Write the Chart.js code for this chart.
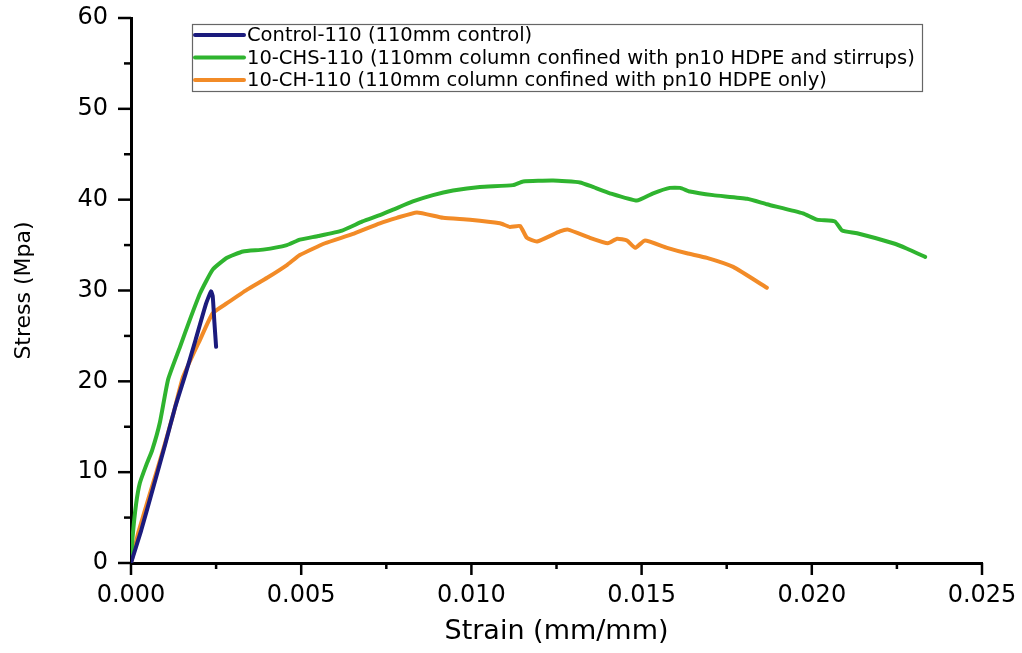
<!DOCTYPE html>
<html>
<head>
<meta charset="utf-8">
<script src="https://cdn.jsdelivr.net/npm/chart.js@4.4.1/dist/chart.umd.min.js"></script>
<style>
  html,body{margin:0;padding:0;background:#fff;}
  #wrap{width:1022px;height:653px;}
</style>
</head>
<body>
<div id="wrap"><canvas id="c"></canvas></div>
<script>
// strain (mm/mm) and stress (MPa)
const ctrlStrain=[0,0.0003,0.0006,0.001,0.0013,0.0016,0.0019,0.0022,0.00235,0.0024,0.00245,0.0025];
const ctrlStress=[0,3.6,7.6,13.0,17.2,20.8,24.6,28.5,29.9,29.4,26.5,23.8];

const chsStrain=[0,0.00005,0.00015,0.00026,0.00045,0.00062,0.00085,0.00109,0.00144,0.00173,0.00203,0.0024,0.00282,0.00329,0.00388,0.00458,0.00496,0.0055,0.0062,0.0068,0.00731,0.0077,0.00828,0.00887,0.00946,0.01025,0.01122,0.01152,0.0124,0.01319,0.01357,0.01407,0.01486,0.01534,0.01583,0.01613,0.01642,0.0171,0.0181,0.01868,0.01974,0.02015,0.02068,0.02089,0.02133,0.02239,0.0228,0.02333];
const chsStress=[0,3,6.5,8.8,10.8,12.4,15.5,20.2,23.8,26.8,29.7,32.3,33.6,34.3,34.5,35.0,35.6,36.0,36.6,37.6,38.3,38.9,39.8,40.5,41.0,41.4,41.6,42.0,42.1,41.9,41.4,40.7,39.9,40.7,41.3,41.3,40.9,40.5,40.1,39.5,38.5,37.8,37.6,36.6,36.3,35.2,34.6,33.7];

const chStrain=[0,0.0001,0.00021,0.00056,0.00094,0.00125,0.00153,0.00203,0.0024,0.00282,0.00341,0.004,0.00458,0.00496,0.0057,0.0065,0.00731,0.00781,0.0084,0.00917,0.00996,0.01084,0.01113,0.01143,0.01163,0.01193,0.0126,0.01284,0.01348,0.01401,0.01428,0.01457,0.01481,0.0151,0.01575,0.01633,0.01692,0.01769,0.01868];
const chStress=[0,1.5,3.3,7.7,12.4,16.5,20.5,24.6,27.5,28.6,30.1,31.4,32.8,33.9,35.2,36.2,37.4,38.0,38.6,38.0,37.8,37.4,37.0,37.1,35.8,35.4,36.5,36.7,35.8,35.2,35.7,35.5,34.7,35.5,34.7,34.1,33.6,32.6,30.3];

const seriesNames=['Control-110 (110mm control)','10-CHS-110 (110mm column confined with pn10 HDPE and stirrups)','10-CH-110 (110mm column confined with pn10 HDPE only)'];
const seriesColors=['#1b1b7d','#2fb42f','#f28b27'];

const pts=(xs,ys)=>xs.map((x,i)=>({x,y:ys[i]}));

// origin style ticks: long major, short minor, pointing out
const tickMarks={
  id:'tickMarks',
  afterDraw(chart){
    const ctx=chart.ctx, xs=chart.scales.x, ys=chart.scales.y, a=chart.chartArea;
    ctx.save(); ctx.strokeStyle='#000'; ctx.lineWidth=2.5;
    const xt=xs.ticks.map(t=>t.value);
    for(let i=0;i<xt.length;i++){
      let p=xs.getPixelForValue(xt[i]);
      ctx.beginPath(); ctx.moveTo(p,a.bottom); ctx.lineTo(p,a.bottom+12); ctx.stroke();
      if(i<xt.length-1){
        p=xs.getPixelForValue((xt[i]+xt[i+1])/2);
        ctx.beginPath(); ctx.moveTo(p,a.bottom); ctx.lineTo(p,a.bottom+6); ctx.stroke();
      }
    }
    const yt=ys.ticks.map(t=>t.value);
    for(let i=0;i<yt.length;i++){
      let p=ys.getPixelForValue(yt[i]);
      ctx.beginPath(); ctx.moveTo(a.left,p); ctx.lineTo(a.left-13,p); ctx.stroke();
      if(i<yt.length-1){
        p=ys.getPixelForValue((yt[i]+yt[i+1])/2);
        ctx.beginPath(); ctx.moveTo(a.left,p); ctx.lineTo(a.left-7,p); ctx.stroke();
      }
    }
    ctx.restore();
  }
};

// boxed legend sitting inside the plot
const boxLegend={
  id:'boxLegend',
  afterDraw(chart){
    const ctx=chart.ctx, L=192, T=24, W=730, H=67;
    ctx.save();
    ctx.strokeStyle='#666'; ctx.lineWidth=1.2;
    ctx.strokeRect(L+0.5,T+0.5,W,H);
    ctx.font='19.5px "DejaVu Sans"'; ctx.textBaseline='middle'; ctx.fillStyle='#000';
    chart.data.datasets.forEach((ds,i)=>{
      const y=T+11+i*22.5;
      ctx.strokeStyle=ds.borderColor; ctx.lineWidth=4; ctx.lineCap='round';
      ctx.beginPath(); ctx.moveTo(L+3,y); ctx.lineTo(L+52,y); ctx.stroke();
      ctx.fillText(ds.label,L+55,y+1);
    });
    ctx.restore();
  }
};

new Chart(document.getElementById('c'),{
  type:'scatter',
  data:{datasets:[
    {label:seriesNames[0],data:pts(ctrlStrain,ctrlStress),borderColor:seriesColors[0]},
    {label:seriesNames[1],data:pts(chsStrain,chsStress),borderColor:seriesColors[1]},
    {label:seriesNames[2],data:pts(chStrain,chStress),borderColor:seriesColors[2]}
  ].map(d=>Object.assign(d,{showLine:true,pointRadius:0,borderWidth:4,tension:0.15,borderJoinStyle:'round',borderCapStyle:'round',fill:false}))},
  options:{
    responsive:true,maintainAspectRatio:false,animation:false,
    layout:{padding:{top:18,right:40,left:0,bottom:0}},
    plugins:{legend:{display:false},tooltip:{enabled:false}},
    scales:{
      x:{type:'linear',min:0,max:0.025,
        afterFit(s){s.height=90;s.paddingLeft=0;s.paddingRight=0;},
        ticks:{stepSize:0.005,padding:18,color:'#000',font:{family:'DejaVu Sans',size:24},callback:v=>v.toFixed(3)},
        grid:{display:false,drawTicks:false},
        border:{display:true,color:'#000',width:3},
        title:{display:true,text:'Strain (mm/mm)',color:'#000',font:{family:'DejaVu Sans',size:27},padding:{top:0,bottom:5}}
      },
      y:{type:'linear',min:0,max:60,
        afterFit(s){s.width=131;s.paddingTop=0;s.paddingBottom=0;},
        ticks:{stepSize:10,padding:23,color:'#000',font:{family:'DejaVu Sans',size:24}},
        grid:{display:false,drawTicks:false},
        border:{display:true,color:'#000',width:3},
        title:{display:true,text:'Stress (Mpa)',color:'#000',font:{family:'DejaVu Sans',size:22},padding:{top:11,bottom:0}}
      }
    }
  },
  plugins:[tickMarks,boxLegend]
});
</script>
</body>
</html>
